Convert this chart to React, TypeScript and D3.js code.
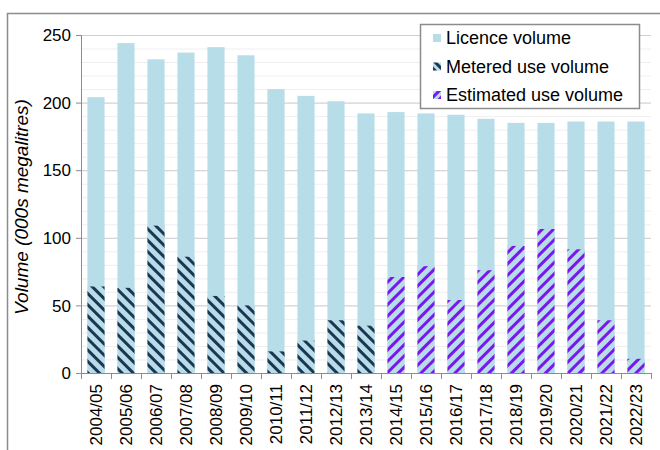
import React from "react";
import * as d3 from "d3";

const years = [
  "2004/05", "2005/06", "2006/07", "2007/08", "2008/09", "2009/10", "2010/11",
  "2011/12", "2012/13", "2013/14", "2014/15", "2015/16", "2016/17", "2017/18",
  "2018/19", "2019/20", "2020/21", "2021/22", "2022/23",
];

const licence = [
  204, 244, 232, 237, 241, 235, 210, 205, 201, 192, 193, 192, 191, 188, 185,
  185, 186, 186, 186,
];

// metered use where measured, estimated use afterwards (null = not shown)
const metered = [64, 63, 109, 86, 57, 50, 16, 24, 39, 35, null, null, null, null, null, null, null, null, null];
const estimated = [null, null, null, null, null, null, null, null, null, null, 71, 79, 54, 76, 94, 106.5, 91.5, 39, 10.5];

const yTicks = [0, 50, 100, 150, 200, 250];

const legendItems = [
  { label: "Licence volume", fill: "#b7dde8" },
  { label: "Metered use volume", fill: "url(#metLegend)" },
  { label: "Estimated use volume", fill: "url(#estLegend)" },
];

const W = 660;
const H = 450;
const m = { left: 81, right: 9, top: 35, bottom: 77 };
const font = "'Liberation Sans', Arial, sans-serif";

export default function App() {
  const x = d3
    .scaleBand()
    .domain(years)
    .range([m.left, W - m.right])
    .paddingInner(0.43)
    .paddingOuter(0.215);
  const y = d3.scaleLinear().domain([0, 250]).range([H - m.bottom, m.top]);
  const minor = d3.range(0, 251, 10);
  const step = x.step();
  const x0 = m.left;
  const x1 = W - m.right;

  return (
    <svg
      width={W}
      height={H}
      style={{ position: "absolute", left: 0, top: 0, background: "#fff" }}
    >
      <defs>
        <pattern id="met" patternUnits="userSpaceOnUse" width="8" height="8" patternTransform="rotate(45)">
          <rect width="8" height="8" fill="#b7dde8" />
          <rect width="8" height="3" fill="#1c3553" />
        </pattern>
        <pattern id="est" patternUnits="userSpaceOnUse" width="8" height="8" patternTransform="rotate(-45)">
          <rect width="8" height="8" fill="#b7dde8" />
          <rect width="8" height="3" fill="#7a16f0" />
        </pattern>
        <pattern id="metLegend" patternUnits="userSpaceOnUse" width="6" height="6" patternTransform="rotate(45)">
          <rect width="6" height="6" fill="#b7dde8" />
          <rect width="6" height="3" fill="#1c3553" />
        </pattern>
        <pattern id="estLegend" patternUnits="userSpaceOnUse" width="6" height="6" patternTransform="rotate(-45)">
          <rect width="6" height="6" fill="#b7dde8" />
          <rect width="6" height="3" fill="#7a16f0" />
        </pattern>
      </defs>

      {/* outer frame */}
      <rect x={7.5} y={13.5} width={700} height={500} fill="none" stroke="#8c8c8c" strokeWidth={1.5} />

      {/* gridlines */}
      {minor.map((v) => (
        <line key={"mn" + v} x1={x0} x2={x1} y1={y(v) + 0.5} y2={y(v) + 0.5} stroke="#efefef" />
      ))}
      {yTicks.map((v) => (
        <line key={"mj" + v} x1={x0} x2={x1} y1={y(v) + 0.5} y2={y(v) + 0.5} stroke="#cfcfcf" />
      ))}

      {/* licence bars */}
      {years.map((yr, i) => (
        <rect
          key={"l" + yr}
          x={x(yr)}
          y={y(licence[i])}
          width={x.bandwidth()}
          height={y(0) - y(licence[i])}
          fill="#b7dde8"
        />
      ))}
      {years.map((yr, i) =>
        metered[i] != null ? (
          <rect
            key={"m" + yr}
            x={x(yr)}
            y={y(metered[i] as number)}
            width={x.bandwidth()}
            height={y(0) - y(metered[i] as number)}
            fill="url(#met)"
          />
        ) : null
      )}
      {years.map((yr, i) =>
        estimated[i] != null ? (
          <rect
            key={"e" + yr}
            x={x(yr)}
            y={y(estimated[i] as number)}
            width={x.bandwidth()}
            height={y(0) - y(estimated[i] as number)}
            fill="url(#est)"
          />
        ) : null
      )}

      {/* y axis */}
      <line x1={x0 + 0.5} x2={x0 + 0.5} y1={y(250)} y2={y(0)} stroke="#8c8c8c" />
      {yTicks.map((v) => (
        <g key={"yt" + v}>
          <line x1={x0 - 5} x2={x0} y1={y(v) + 0.5} y2={y(v) + 0.5} stroke="#8c8c8c" />
          <text
            x={x0 - 10}
            y={y(v)}
            dy="0.36em"
            textAnchor="end"
            fontFamily={font}
            fontSize={17}
            fill="#000"
          >
            {v}
          </text>
        </g>
      ))}

      {/* x axis */}
      <line x1={x0} x2={x1} y1={y(0) + 0.5} y2={y(0) + 0.5} stroke="#8c8c8c" />
      {d3.range(years.length + 1).map((i) => (
        <line
          key={"xt" + i}
          x1={x0 + i * step + 0.5}
          x2={x0 + i * step + 0.5}
          y1={y(0)}
          y2={y(0) + 6}
          stroke="#8c8c8c"
        />
      ))}
      {years.map((yr) => (
        <text
          key={"xl" + yr}
          transform={`translate(${(x(yr) as number) + x.bandwidth() / 2},${y(0) + 11}) rotate(-90)`}
          dy="0.36em"
          textAnchor="end"
          fontFamily={font}
          fontSize={17}
          fill="#000"
        >
          {yr}
        </text>
      ))}

      {/* y title */}
      <text
        transform={`translate(28,207) rotate(-90)`}
        textAnchor="middle"
        fontFamily={font}
        fontSize={19}
        fontStyle="italic"
        fill="#000"
      >
        Volume (000s megalitres)
      </text>

      {/* legend */}
      <rect x={420.5} y={24.5} width={219} height={84} fill="#fff" stroke="#8c8c8c" strokeWidth={1.5} />
      {legendItems.map((d, i) => (
        <g key={d.label} transform={`translate(433,${38 + i * 28.5})`}>
          <rect x={0} y={-4} width={8} height={8} fill={d.fill} />
          <text x={13} y={0} dy="0.36em" fontFamily={font} fontSize={18} fill="#000">
            {d.label}
          </text>
        </g>
      ))}
    </svg>
  );
}
